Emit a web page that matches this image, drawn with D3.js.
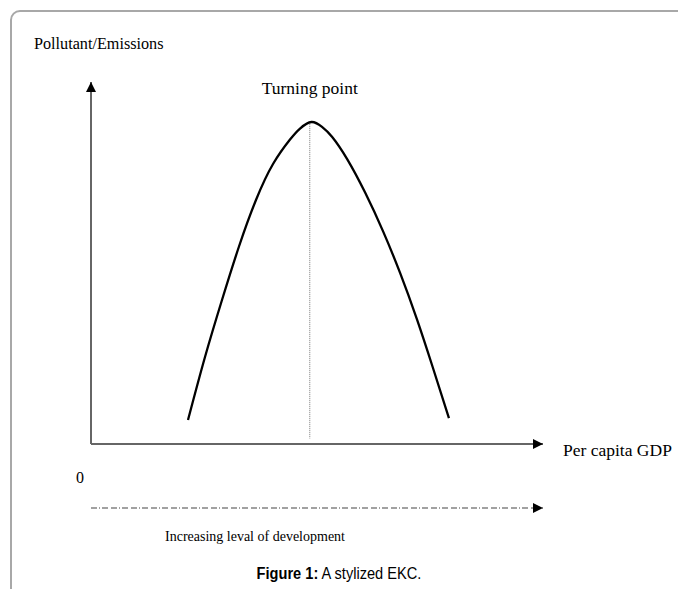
<!DOCTYPE html>
<html>
<head>
<meta charset="utf-8">
<script src="https://cdn.jsdelivr.net/npm/d3@7"></script>
<style>
  html, body { margin: 0; padding: 0; background: #fff; }
  svg { display: block; }
</style>
</head>
<body>
<svg id="chart" width="678" height="589"></svg>
<script>
// ---- data ----
const incomeLevel    = [21.46, 25.22, 28.98, 32.74, 36.50, 40.27, 44.03, 46.24, 48.78, 51.11, 53.32, 56.64, 60.62, 64.60, 68.36, 72.12, 75.66, 79.20];
const pollutionLevel = [6.63, 24.03, 39.78, 54.56, 67.40, 77.35, 84.12, 87.15, 88.95, 87.60, 84.89, 78.78, 69.53, 58.81, 47.32, 34.42, 20.99, 7.13];
const turningPointX = [48.4];
const turningPointY = [88.9];
const yAxisTitle = ["Pollutant/Emissions"];
const xAxisTitle = ["Per capita GDP"];
const originLabel = ["0"];
const turningLabel = ["Turning point"];
const developmentLabel = ["Increasing leval of development"];
const captionBold = ["Figure 1:"];
const captionText = [" A stylized EKC."];

const svg = d3.select("#chart");

// frame
svg.append("rect")
  .attr("x", 11).attr("y", 11)
  .attr("width", 720).attr("height", 640)
  .attr("rx", 9).attr("ry", 9)
  .attr("fill", "none")
  .attr("stroke", "#a8a8a8")
  .attr("stroke-width", 2);

const x = d3.scaleLinear().domain([0, 100]).range([91, 543]);
const y = d3.scaleLinear().domain([0, 100]).range([444, 82]);

const defs = svg.append("defs");
defs.append("marker")
  .attr("id", "arrow")
  .attr("viewBox", "0 0 10 10")
  .attr("refX", 10).attr("refY", 5)
  .attr("markerWidth", 11).attr("markerHeight", 10)
  .attr("markerUnits", "userSpaceOnUse")
  .attr("orient", "auto")
  .append("path")
  .attr("d", "M0,0 L10,5 L0,10 Z")
  .attr("fill", "#000");
defs.append("clipPath").attr("id", "rightclip")
  .append("rect").attr("x", 0).attr("y", 0).attr("width", 674).attr("height", 589);

// y axis
svg.append("line")
  .attr("x1", x(0)).attr("y1", y(0))
  .attr("x2", x(0)).attr("y2", y(100))
  .attr("stroke", "#333").attr("stroke-width", 1.5)
  .attr("marker-end", "url(#arrow)");

// x axis
svg.append("line")
  .attr("x1", x(0)).attr("y1", y(0))
  .attr("x2", x(100)).attr("y2", y(0))
  .attr("stroke", "#666").attr("stroke-width", 2)
  .attr("marker-end", "url(#arrow)");

// development dashed arrow
svg.append("line")
  .attr("x1", x(0)).attr("y1", 508)
  .attr("x2", x(100)).attr("y2", 508)
  .attr("stroke", "#444").attr("stroke-width", 1.2)
  .attr("stroke-dasharray", "6,2,1,2,6,3")
  .attr("marker-end", "url(#arrow)");

// turning point dotted line
svg.append("line")
  .attr("x1", x(turningPointX[0])).attr("y1", y(turningPointY[0]) + 2)
  .attr("x2", x(turningPointX[0])).attr("y2", y(1.5))
  .attr("stroke", "#777").attr("stroke-width", 1)
  .attr("stroke-dasharray", "1,1");

// EKC curve
const pts = incomeLevel.map((v, i) => [v, pollutionLevel[i]]);
const line = d3.line()
  .x(d => x(d[0]))
  .y(d => y(d[1]))
  .curve(d3.curveNatural);
svg.append("path")
  .datum(pts)
  .attr("d", line)
  .attr("fill", "none")
  .attr("stroke", "#000")
  .attr("stroke-width", 2.3)
  .attr("stroke-linecap", "butt");

// text
const serif = "'Liberation Serif', 'Times New Roman', serif";
svg.append("text").attr("x", 34).attr("y", 49)
  .attr("font-family", serif).attr("font-size", 16.2).text(yAxisTitle[0]);
svg.append("text").attr("x", x(turningPointX[0])).attr("y", 94)
  .attr("text-anchor", "middle")
  .attr("font-family", serif).attr("font-size", 17.5).text(turningLabel[0]);
svg.append("text").attr("x", 563).attr("y", 456)
  .attr("clip-path", "url(#rightclip)")
  .attr("font-family", serif).attr("font-size", 17.5).text(xAxisTitle[0]);
svg.append("text").attr("x", 76).attr("y", 483)
  .attr("font-family", serif).attr("font-size", 16).text(originLabel[0]);
svg.append("text").attr("x", 165).attr("y", 541)
  .attr("font-family", serif).attr("font-size", 14).text(developmentLabel[0]);

const cap = svg.append("text")
  .attr("transform", "translate(339,579) scale(0.86,1)")
  .attr("text-anchor", "middle")
  .attr("font-family", "'Liberation Sans', Arial, sans-serif").attr("font-size", 17);
cap.append("tspan").attr("font-weight", "bold").text(captionBold[0]);
cap.append("tspan").text(captionText[0]);
</script>
</body>
</html>
